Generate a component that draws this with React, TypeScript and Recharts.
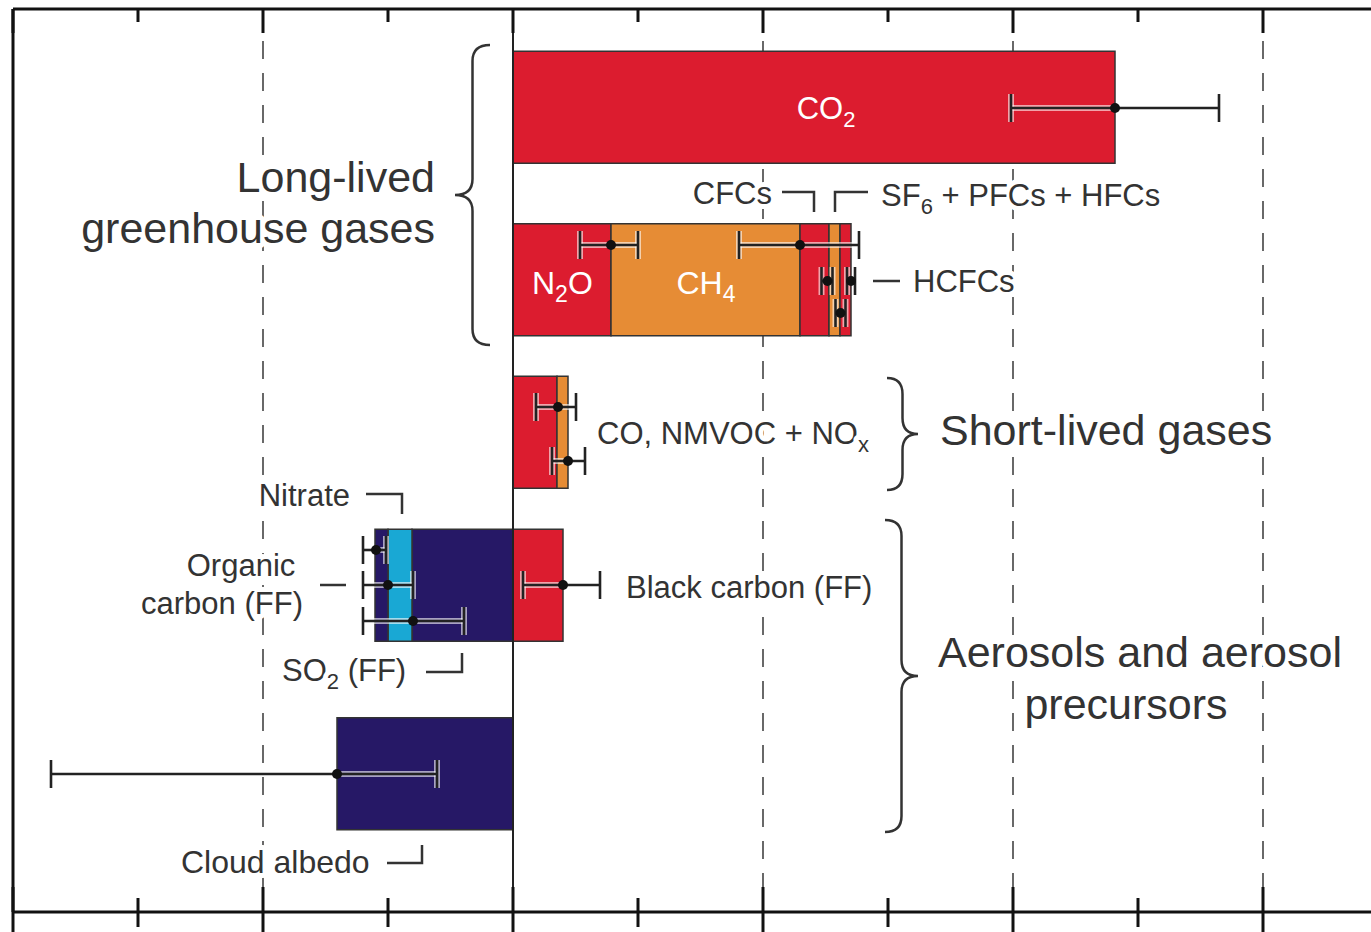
import React from 'react';
import { ComposedChart, Bar, XAxis, YAxis, Scatter, ErrorBar, ReferenceLine, CartesianGrid } from 'recharts';

// vertical position of each bar row (plot units, 0 = top border)
const rowPos = [0.985, 2.71, 4.235, 5.765, 7.65];

// forcing per component, one value per row
const co2 = [1.204, 0, 0, 0, 0];
const n2o = [0, 0.196, 0, 0, 0];
const ch4 = [0, 0.378, 0, 0, 0];
const cfcs = [0, 0.058, 0, 0, 0];
const hcfcs = [0, 0.022, 0, 0, 0];
const halo = [0, 0.022, 0, 0, 0];
const shortRed = [0, 0, 0.088, 0, 0];
const shortOrange = [0, 0, 0.022, 0, 0];
const blackCarbon = [0, 0, 0, 0.1, 0];
const so2 = [0, 0, 0, -0.202, 0];
const organic = [0, 0, 0, -0.048, 0];
const nitrate = [0, 0, 0, -0.026, 0];
const cloudAlbedo = [0, 0, 0, 0, -0.352];

// uncertainty ranges: centre, distance below, distance above, row position
const errPos = [0.99, 2.36, 2.36, 2.72, 2.72, 3.04, 3.98, 4.52, 5.41, 5.76, 6.12, 5.76, 7.65];
const errCentre = [1.204, 0.196, 0.574, 0.629, 0.676, 0.655, 0.09, 0.11, -0.274, -0.25, -0.2, 0.1, -0.352];
const errLow = [0.208, 0.062, 0.122, 0.012, 0.008, 0.01, 0.044, 0.032, 0.026, 0.05, 0.1, 0.08, 0.572];
const errHigh = [0.208, 0.054, 0.118, 0.01, 0.008, 0.01, 0.036, 0.034, 0.02, 0.05, 0.102, 0.074, 0.2];

const majorTicks = [-1, -0.5, 0, 0.5, 1, 1.5];
const minorTicks = [-0.75, -0.25, 0.25, 0.75, 1.25];
const dashedLines = [-0.5, 0.5, 1, 1.5];

const RED = '#dc1c2f';
const ORANGE = '#e68c35';
const NAVY = '#261866';
const CYAN = '#19a8d4';

const series = [
  { key: 'co2', values: co2, color: RED },
  { key: 'n2o', values: n2o, color: RED },
  { key: 'ch4', values: ch4, color: ORANGE },
  { key: 'cfcs', values: cfcs, color: RED },
  { key: 'hcfcs', values: hcfcs, color: ORANGE },
  { key: 'halo', values: halo, color: RED },
  { key: 'shortRed', values: shortRed, color: RED },
  { key: 'shortOrange', values: shortOrange, color: ORANGE },
  { key: 'blackCarbon', values: blackCarbon, color: RED },
  { key: 'so2', values: so2, color: NAVY },
  { key: 'organic', values: organic, color: CYAN },
  { key: 'nitrate', values: nitrate, color: NAVY },
  { key: 'cloudAlbedo', values: cloudAlbedo, color: NAVY },
];

const rows = rowPos.map((pos, i) => {
  const row: Record<string, number> = { pos };
  series.forEach((s) => (row[s.key] = s.values[i]));
  return row;
});

const errors = errPos.map((pos, i) => ({
  pos,
  v: errCentre[i],
  err: [errLow[i], errHigh[i]],
}));

const allTicks = [...majorTicks, ...minorTicks].sort((a, b) => a - b);

const TopTick = (props: any) => {
  const { x, y, payload } = props;
  const major = majorTicks.includes(payload.value);
  return <line x1={x} x2={x} y1={y} y2={y + (major ? 24 : 13)} stroke="#111" strokeWidth={3} />;
};

const BottomTick = (props: any) => {
  const { x, y, payload } = props;
  const major = majorTicks.includes(payload.value);
  return (
    <line x1={x} x2={x} y1={y - (major ? 25 : 14)} y2={y + (major ? 25 : 15)} stroke="#111" strokeWidth={3} />
  );
};

const font = '"Liberation Sans", Arial, Helvetica, sans-serif';
const txt = '#333';

function brace(x0: number, yTop: number, yBot: number, xTip: number, yTip: number) {
  const xm = (x0 + xTip) / 2;
  const r = 16;
  return `M ${x0} ${yTop} Q ${xm} ${yTop} ${xm} ${yTop + r} L ${xm} ${yTip - r} Q ${xm} ${yTip} ${xTip} ${yTip} Q ${xm} ${yTip} ${xm} ${yTip + r} L ${xm} ${yBot - r} Q ${xm} ${yBot} ${x0} ${yBot}`;
}

function Annotations() {
  const line = { stroke: '#333', strokeWidth: 2.5, fill: 'none' };
  // white halo behind dark labels, so grid dashes break around them
  const lab = { fill: txt, stroke: '#fff', strokeWidth: 10, strokeLinejoin: 'round' as const, paintOrder: 'stroke' };
  return (
    <svg
      width={1371}
      height={932}
      style={{ position: 'absolute', left: 0, top: 0, pointerEvents: 'none' }}
      fontFamily={font}
    >
      {/* group labels */}
      <text x={435} y={192} fontSize={43} {...lab} textAnchor="end">Long-lived</text>
      <text x={435} y={243} fontSize={43} {...lab} textAnchor="end">greenhouse gases</text>
      <text x={940} y={445} fontSize={43} {...lab}>Short-lived gases</text>
      <text x={938} y={667} fontSize={43} {...lab}>Aerosols and aerosol</text>
      <text x={1126} y={719} fontSize={43} {...lab} textAnchor="middle">precursors</text>

      <path d={brace(490, 45, 345, 455, 195)} {...line} />
      <path d={brace(887, 378, 490, 918, 434)} {...line} />
      <path d={brace(885, 520, 832, 918, 676)} {...line} />

      {/* labels inside bars */}
      <text x={826} y={119} fontSize={31} fill="#fff" textAnchor="middle">
        CO<tspan fontSize={22} dy={8}>2</tspan>
      </text>
      <text x={532} y={294} fontSize={32} fill="#fff">
        N<tspan fontSize={23} dy={8}>2</tspan>
        <tspan dy={-8}>O</tspan>
      </text>
      <text x={706} y={294} fontSize={32} fill="#fff" textAnchor="middle">
        CH<tspan fontSize={23} dy={8}>4</tspan>
      </text>

      {/* component labels */}
      <text x={772} y={204} fontSize={31} {...lab} textAnchor="end">CFCs</text>
      <polyline points="782,192 814,192 814,212" {...line} />
      <polyline points="835,212 835,192 868,192" {...line} />
      <text x={881} y={206} fontSize={31} {...lab}>
        SF<tspan fontSize={22} dy={8}>6</tspan>
        <tspan dy={-8}> + PFCs + HFCs</tspan>
      </text>
      <line x1={873} y1={281} x2={900} y2={281} {...line} />
      <text x={913} y={292} fontSize={31} {...lab}>HCFCs</text>

      <text x={597} y={444} fontSize={31} {...lab}>
        CO, NMVOC + NO<tspan fontSize={22} dy={8}>x</tspan>
      </text>

      <text x={626} y={598} fontSize={31} {...lab}>Black carbon (FF)</text>
      <text x={350} y={506} fontSize={31} {...lab} textAnchor="end">Nitrate</text>
      <polyline points="366,494 402,494 402,514" {...line} />
      <text x={241} y={576} fontSize={31} {...lab} textAnchor="middle">Organic</text>
      <text x={222} y={614} fontSize={31} {...lab} textAnchor="middle">carbon (FF)</text>
      <line x1={320} y1={585} x2={346} y2={585} {...line} />
      <text x={282} y={681} fontSize={31} {...lab}>
        SO<tspan fontSize={22} dy={8}>2</tspan>
        <tspan dy={-8}> (FF)</tspan>
      </text>
      <polyline points="426,672 462,672 462,653" {...line} />
      <text x={181} y={873} fontSize={32} {...lab}>Cloud albedo</text>
      <polyline points="387,863 422,863 422,845" {...line} />
    </svg>
  );
}

export default function App() {
  return (
    <div style={{ position: 'absolute', left: 0, top: 0, width: 1371, height: 932, background: '#fff' }}>
      <ComposedChart
        width={1371}
        height={932}
        data={rows}
        layout="vertical"
        stackOffset="sign"
        margin={{ top: 8, right: 0, bottom: 19, left: 13 }}
      >
        <CartesianGrid
          horizontal={false}
          stroke="#444"
          strokeWidth={1.6}
          strokeDasharray="18 14"
          verticalValues={dashedLines}
        />
        <XAxis
          type="number"
          domain={[-1, 1.716]}
          allowDataOverflow
          ticks={allTicks}
          interval={0}
          height={1}
          tickSize={0}
          tickMargin={0}
          tick={BottomTick}
          axisLine={{ stroke: '#111', strokeWidth: 3 }}
        />
        <XAxis
          xAxisId="top"
          orientation="top"
          type="number"
          domain={[-1, 1.716]}
          allowDataOverflow
          ticks={allTicks}
          interval={0}
          height={1}
          tickSize={0}
          tickMargin={0}
          tick={TopTick}
          axisLine={{ stroke: '#111', strokeWidth: 3 }}
        />
        <YAxis type="number" dataKey="pos" domain={[0, 9.03]} allowDataOverflow hide />
        <YAxis yAxisId="err" type="number" dataKey="pos" domain={[0, 9.03]} allowDataOverflow hide />

        <ReferenceLine x={-1} stroke="#111" strokeWidth={3} />

        {series.map((s) => (
          <Bar
            key={s.key}
            dataKey={s.key}
            stackId="rf"
            fill={s.color}
            stroke="#333"
            strokeWidth={1.5}
            barSize={112}
            isAnimationActive={false}
          />
        ))}

        <ReferenceLine x={0} stroke="#222" strokeWidth={2} />

        <Scatter
          data={errors}
          dataKey="v"
          yAxisId="err"
          isAnimationActive={false}
          shape={(p: any) => <circle cx={p.cx} cy={p.cy} r={5} fill="#111" />}
        >
          <ErrorBar dataKey="err" direction="x" width={14} stroke="#fff" strokeWidth={6} strokeOpacity={0.6} isAnimationActive={false} />
          <ErrorBar dataKey="err" direction="x" width={14} stroke="#222" strokeWidth={2.6} isAnimationActive={false} />
        </Scatter>
      </ComposedChart>
      <Annotations />
    </div>
  );
}
